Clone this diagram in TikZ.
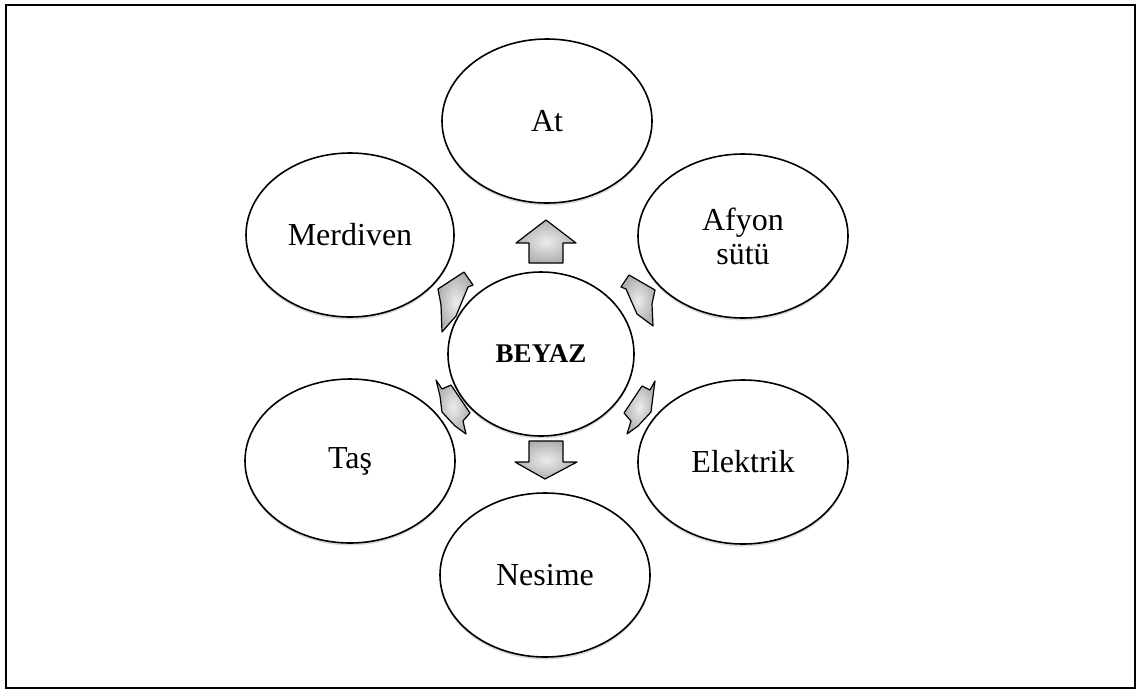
\documentclass[tikz,border=0pt]{standalone}
\usepackage{fontspec}
\setmainfont{Liberation Serif}
\usetikzlibrary{shapes.geometric,shadows}
\tikzset{
  bubble/.style={ellipse, draw=black, line width=1.6pt, fill=white, inner sep=0pt,
    minimum width=210pt, minimum height=164pt, align=center,
    font=\fontsize{32}{33}\selectfont,
    drop shadow={shadow xshift=0pt, shadow yshift=-2.5pt, opacity=0.15, fill=black}},
  hub/.style={bubble, minimum width=186pt, minimum height=164pt,
    font=\fontsize{27}{30}\selectfont\bfseries},
  blockarrow/.style={draw=black, line width=1.2pt, line join=round,
    inner color=gray!15, outer color=gray!62}
}
\begin{document}
\begin{tikzpicture}[x=1pt,y=-1pt]
\useasboundingbox (0,0) rectangle (1137,691);
\draw[line width=2.2pt] (6,5) rectangle (1135,688);

\node[bubble] (at) at (547,121) {At};
\node[bubble, minimum width=208pt] (merd) at (350,235) {Merdiven};
\node[bubble] (afyon) at (743,236) {Afyon\\[1pt]sütü};
\node[bubble] (tas) at (350,461) {Taş};
\node[bubble] (elek) at (743,462) {Elektrik};
\node[bubble] (nes) at (545,575) {Nesime};
\node[hub] (beyaz) at (541,354) {BEYAZ};

% up / down arrows
\shade[blockarrow] (546,220) -- (576,243) -- (563,243) -- (563,263) -- (529,263) -- (529,243) -- (516,243) -- cycle;
\shade[blockarrow] (529,441) -- (563,441) -- (563,462) -- (577,462) -- (545,479) -- (515,462) -- (529,462) -- cycle;
% upper-left
\shade[blockarrow] (464,272) -- (473,285) -- (468,287) -- (456,316) -- (442,332) -- (441,305) -- (438,289) -- cycle;
% upper-right
\shade[blockarrow] (629,275) -- (621,287) -- (626,289) -- (637,314) -- (653,326) -- (652,304) -- (655,290) -- cycle;
% lower-left
\shade[blockarrow] (436,380) -- (442,389) -- (451,385) -- (470,413) -- (463,421) -- (466,434) -- (455,426) -- (442,412) -- (440,396) -- cycle;
% lower-right
\shade[blockarrow] (655,381) -- (650,390) -- (642,386) -- (624,413) -- (631,421) -- (627,434) -- (638,426) -- (651,412) -- (653,396) -- cycle;
\end{tikzpicture}
\end{document}
